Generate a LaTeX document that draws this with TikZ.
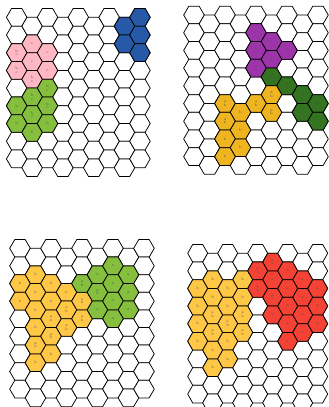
\documentclass[tikz,border=0pt]{standalone}
\usepackage{xcolor}
\definecolor{cellpink}{RGB}{255,183,196}
\definecolor{cellblue}{RGB}{38,90,168}
\definecolor{cellgreen}{RGB}{134,190,62}
\definecolor{cellpurple}{RGB}{158,52,170}
\definecolor{celldkgreen}{RGB}{52,115,32}
\definecolor{cellorange}{RGB}{238,181,32}
\definecolor{cellyellow}{RGB}{255,199,70}
\definecolor{cellred}{RGB}{244,66,52}
% hexagon of a grid: col, row, fill
\newcommand{\hexshape}[3]{%
  \pgfmathsetmacro{\hx}{1.5*#1}%
  \pgfmathsetmacro{\hy}{1.732*#2+0.866*mod(#1,2)}%
  \draw[hexline,fill=#3] (\hx,\hy) +(-1,0) -- +(-.5,-.866) -- +(.5,-.866)
    -- +(1,0) -- +(.5,.866) -- +(-.5,.866) -- cycle;}
% coloured cell with its label: grid, col, row, fill, label
\newcommand{\hexcell}[5]{%
  \hexshape{#2}{#3}{#4}%
  \node[lbl] (#1-#2-#3) at (\hx,\hy) {#5};}

\begin{document}
\begin{tikzpicture}[x=1pt,y=-1pt,
  hexline/.style={draw=black,line width=0.75pt,line join=miter},
  lbl/.style={font=\fontsize{3.6}{3.7}\selectfont,text=black!70,align=center,inner sep=0pt}]
\useasboundingbox (0,0) rectangle (329,407);

% top left
\begin{scope}[shift={(16.7,17.3)},x=10.27pt,y=-10.22pt]
  \foreach \c in {0,...,8} \foreach \r in {0,...,8} {\hexshape{\c}{\r}{white}}
  \foreach \c/\r in {7/0,7/1,8/0,8/1,8/2} {\hexcell{ga}{\c}{\r}{cellblue}{a}}
  \foreach \c/\r/\t in {1/1/c,0/2/{b\\c},1/2/c,2/2/c,0/3/{b\\c},1/3/{b\\c},2/3/c}
    {\hexcell{ga}{\c}{\r}{cellpink}{\t}}
  \foreach \c/\r/\t in {2/4/{b\\c},1/4/{b\\c},0/5/b,2/5/{b\\c},1/5/{b\\c},0/6/b,1/6/b,2/6/b}
    {\hexcell{ga}{\c}{\r}{cellgreen}{\t}}
\end{scope}

% top right
\begin{scope}[shift={(194,15)},x=10.33pt,y=-10.22pt]
  \foreach \c in {0,...,8} \foreach \r in {0,...,8} {\hexshape{\c}{\r}{white}}
  \foreach \c/\r/\t in {4/1/c,5/1/c,4/2/{a\\c},5/2/{a\\c},6/2/c,4/3/{a\\c}}
    {\hexcell{gb}{\c}{\r}{cellpurple}{\t}}
  \foreach \c/\r/\t in {5/3/{a\\b},6/4/{a\\b},7/4/a,7/5/a,8/5/a,8/6/a}
    {\hexcell{gb}{\c}{\r}{celldkgreen}{\t}}
  \foreach \c/\r/\t in {5/4/{a\\b},4/5/{a\\b},5/5/{a\\b},2/5/{a\\b},3/5/b,2/6/{a\\b},3/6/b,2/7/b,3/7/b,2/8/b}
    {\hexcell{gb}{\c}{\r}{cellorange}{\t}}
\end{scope}

% bottom left
\begin{scope}[shift={(20,248.3)},x=10.33pt,y=-10.16pt]
  \foreach \c in {0,...,8} \foreach \r in {0,...,8} {\hexshape{\c}{\r}{white}}
  \foreach \c/\r/\t in {1/1/b,0/2/b,1/2/b,2/2/b,3/2/b,0/3/b,1/3/b,2/3/b,3/3/{a\\b},4/3/{a\\b},
      1/4/b,2/4/{a\\b},3/4/{a\\b},4/4/{a\\b},1/5/{a\\b},2/5/{a\\b},1/6/b,2/6/b}
    {\hexcell{gc}{\c}{\r}{cellyellow}{\t}}
  \foreach \c/\r/\t in {4/2/{a\\b},5/1/a,6/1/a,7/1/a,5/2/{a\\b},6/2/a,7/2/a,5/3/a,6/3/a,7/3/a,6/4/a}
    {\hexcell{gc}{\c}{\r}{cellgreen}{\t}}
\end{scope}

% bottom right
\begin{scope}[shift={(197.7,253.3)},x=10pt,y=-10.16pt]
  \foreach \c in {0,...,8} \foreach \r in {0,...,8} {\hexshape{\c}{\r}{white}}
  \foreach \c/\r/\t in {1/1/b,3/1/b,0/2/b,1/2/b,2/2/b,3/2/b,0/3/b,1/3/{a\\b},2/3/b,3/3/{a\\b},
      0/4/b,1/4/{a\\b},2/4/{a\\b},3/4/{a\\b},0/5/b,1/5/b,2/5/b,1/6/b,2/6/b}
    {\hexcell{gd}{\c}{\r}{cellyellow}{\t}}
  \foreach \c/\r/\t in {5/0/{a\\b},4/1/{a\\b},5/1/a,6/1/a,7/1/a,4/2/{a\\b},5/2/{a\\b},6/2/a,7/2/a,8/2/a,
      5/3/a,6/3/a,7/3/a,8/3/a,6/4/a,7/4/a,8/4/a,6/5/a}
    {\hexcell{gd}{\c}{\r}{cellred}{\t}}
\end{scope}
\end{tikzpicture}
\end{document}
